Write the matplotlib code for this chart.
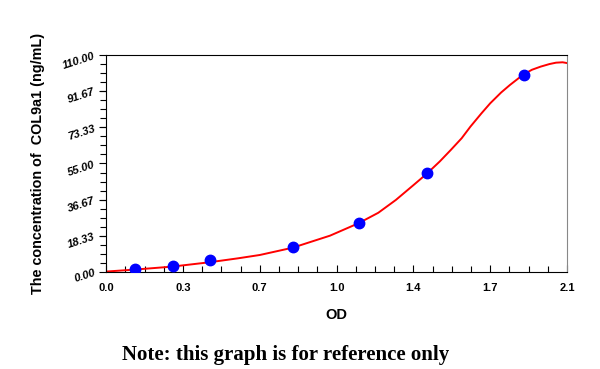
import numpy as np
import matplotlib
matplotlib.use('Agg')
import matplotlib.pyplot as plt
from matplotlib.ticker import MultipleLocator, FixedLocator

# standard points
od = [0.132, 0.304, 0.475, 0.853, 1.151, 1.461, 1.904]
conc = [1.56, 3.125, 6.25, 12.5, 25, 50, 100]

# fitted curve
curve_od = [0.0, 0.13, 0.30, 0.47, 0.60, 0.70, 0.85, 1.02, 1.15, 1.24, 1.32, 1.40,
            1.46, 1.52, 1.57, 1.62, 1.66, 1.71, 1.75, 1.80, 1.84, 1.90, 1.94, 1.98,
            2.02, 2.05, 2.08, 2.10]
curve_conc = [0.2, 1.2, 2.7, 4.9, 6.9, 8.6, 12.3, 18.4, 24.7, 30.0, 36.5, 44.0,
              49.7, 56.0, 61.8, 67.8, 73.7, 80.4, 85.5, 91.0, 94.8, 100.0, 102.5, 104.1,
              105.4, 106.1, 106.3, 105.9]

x_ticks = [0.0, 0.35, 0.7, 1.05, 1.4, 1.75, 2.1]
x_labels = ['0.0', '0.3', '0.7', '1.0', '1.4', '1.7', '2.1']
y_ticks = [0, 18.33, 36.67, 55.0, 73.33, 91.67, 110.0]
y_labels = ['0.00', '18.33', '36.67', '55.00', '73.33', '91.67', '110.00']

fig = plt.figure(figsize=(6, 3.69), dpi=100)
ax = fig.add_axes([0.177, 0.263, 0.768, 0.588])

ax.plot(curve_od, curve_conc, color='red', lw=1.4, zorder=2)
ax.plot(od, conc, 'o', color='#0000ff', ms=7.5, zorder=3)

ax.set_xlim(0, 2.1)
ax.set_ylim(0, 110)

ax.xaxis.set_major_locator(FixedLocator(x_ticks))
ax.xaxis.set_minor_locator(MultipleLocator(0.0875))
ax.set_xticklabels(x_labels, fontsize=8, fontweight='bold', family='Liberation Sans')
ax.yaxis.set_major_locator(FixedLocator(y_ticks))
ax.yaxis.set_minor_locator(MultipleLocator(110 / 24))
ax.set_yticklabels(y_labels, fontsize=8, fontweight='bold', family='Liberation Sans',
                   style='italic', rotation=18)

ax.tick_params(axis='x', which='both', direction='in', length=5, width=0.8, pad=8)
ax.tick_params(axis='y', which='both', direction='out', length=5, width=0.8, pad=2)
ax.tick_params(which='minor', length=4)

for s in ['left', 'bottom', 'top']:
    ax.spines[s].set_color('black')
    ax.spines[s].set_linewidth(0.8)
ax.spines['right'].set_color('#888888')

ax.set_xlabel('OD', fontsize=10.5, fontweight='bold', family='Liberation Sans', labelpad=11)
ax.set_ylabel('The concentration of  COL9a1 (ng/mL)', fontsize=10.4, fontweight='bold',
              family='Liberation Sans', labelpad=12)

fig.text(0.203, 0.024, 'Note: this graph is for reference only', fontsize=15,
         fontweight='bold', family='Liberation Serif', va='baseline')

fig.savefig('out.png', dpi=100)
